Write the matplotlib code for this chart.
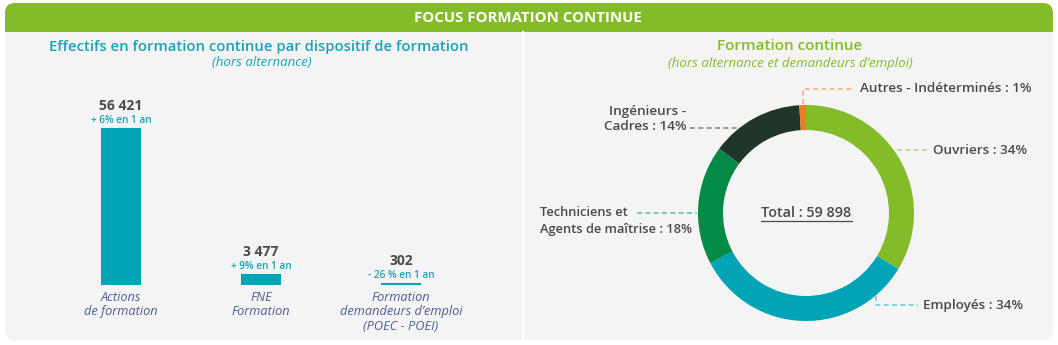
import matplotlib.pyplot as plt
from matplotlib.patches import FancyBboxPatch, Rectangle

# --- data -------------------------------------------------------------
dispositifs = ["Actions\nde formation", "FNE\nFormation",
               "Formation\ndemandeurs d’emploi\n(POEC - POEI)"]
effectifs = [56421, 3477, 302]
evolutions = ["+ 6% en 1 an", "+ 9% en 1 an", "- 26 % en 1 an"]

categories = ["Ouvriers", "Employés", "Techniciens et\nAgents de maîtrise",
              "Ingénieurs -\nCadres", "Autres - Indéterminés"]
parts = [34, 34, 18, 14, 1]
total = 59898

GREEN = "#84bb29"
TEAL = "#00a4b6"
TITLE_TEAL = "#1ba1b9"
DARK = "#4a4a4a"
SLATE = "#4f5d96"
PANEL = "#f4f4f4"
ring_colours = ["#84bb29", "#00a4b6", "#038a47", "#213528", "#f07c22"]
leader_colours = ["#b9d88a", "#73cbd6", "#6cc49a", "#8c8c8c", "#f5b08a"]

plt.rcParams["font.family"] = ["Open Sans", "DejaVu Sans"]

W, H = 1058, 345
fig = plt.figure(figsize=(W / 100, H / 100), dpi=100)

# background axes in pixel coordinates
bg = fig.add_axes([0, 0, 1, 1])
bg.set_xlim(0, W)
bg.set_ylim(H, 0)
bg.axis("off")

bg.add_patch(FancyBboxPatch((5, 3), 1048, 337, boxstyle="round,pad=0,rounding_size=10",
                            fc=PANEL, ec="none"))
bg.add_patch(FancyBboxPatch((5, 3), 1048, 40, boxstyle="round,pad=0,rounding_size=10",
                            fc=GREEN, ec="none"))
bg.add_patch(Rectangle((5, 32), 1048, 20, fc=PANEL, ec="none"))
bg.plot([523, 523], [32, 340], color="white", lw=1.5)

bg.text(528, 18, "FOCUS FORMATION CONTINUE", color="white", fontsize=10.8,
        fontweight="bold", ha="center", va="center")

bg.text(259, 47, "Effectifs en formation continue par dispositif de formation",
        color=TITLE_TEAL, fontsize=10.7, fontweight="semibold", ha="center", va="center")
bg.text(262, 63, "(hors alternance)", color=TITLE_TEAL, fontsize=9.5, style="italic",
        ha="center", va="center")

bg.text(790, 46, "Formation continue", color=GREEN, fontsize=11,
        fontweight="semibold", ha="center", va="center")
bg.text(790, 63, "(hors alternance et demandeurs d’emploi)", color=GREEN, fontsize=9.5,
        style="italic", ha="center", va="center")

# --- bar chart --------------------------------------------------------
x0, step = 121, 140           # pixel centre of first bar, spacing
base, top = 285, 85           # pixel baseline and top of axes
left_px = x0 - 0.7 * step
axb = fig.add_axes([left_px / W, (H - base) / H, 3.4 * step / W, (base - top) / H])
axb.patch.set_alpha(0)
xs = range(len(effectifs))
axb.bar(xs, effectifs, width=0.265, color=TEAL, edgecolor=TEAL, linewidth=1.5)
axb.set_xlim(-0.7, 2.7)
axb.set_ylim(0, effectifs[0] * (base - top) / 156)
for s in axb.spines.values():
    s.set_visible(False)
axb.set_yticks([])
axb.set_xticks(list(xs))
axb.set_xticklabels(dispositifs, fontsize=9.2, style="italic", color=SLATE,
                    linespacing=1.16)
axb.tick_params(axis="x", length=0, pad=4)

for x, v, evo in zip(xs, effectifs, evolutions):
    axb.annotate(f"{v:,}".replace(",", " "), (x, v), xytext=(0, 23),
                 textcoords="offset pixels", ha="center", va="center",
                 fontsize=10, fontweight="bold", color=DARK)
    axb.annotate(evo, (x, v), xytext=(0, 9), textcoords="offset pixels",
                 ha="center", va="center", fontsize=7.2, fontweight="semibold",
                 color=TITLE_TEAL)

# --- donut ------------------------------------------------------------
cx, cy, r = 806, 213, 108
half = 130
axd = fig.add_axes([(cx - half) / W, (H - cy - half) / H, 2 * half / W, 2 * half / H])
axd.pie(parts, colors=ring_colours, startangle=90, counterclock=False, radius=1,
        wedgeprops=dict(width=25 / r, linewidth=0))
axd.set_xlim(-half / r, half / r)
axd.set_ylim(-half / r, half / r)

bg.text(cx, 213, f"Total : {total:,}".replace(",", " "), color=DARK, fontsize=10.4,
        fontweight="semibold", ha="center", va="center")
bg.plot([761, 852], [221, 221], color=DARK, lw=0.9)

labels = [f"{c} : {p}%" for c, p in zip(categories, parts)]
dash = dict(ls=(0, (3, 2)), lw=1.2)
lab = dict(color=DARK, fontweight="semibold", va="center")

# Ouvriers
bg.plot([897, 928], [150, 150], color=leader_colours[0], **dash)
bg.text(933, 150, labels[0], ha="left", fontsize=9.7, **lab)
# Employés
bg.plot([876, 876, 918], [296, 305, 305], color=leader_colours[1], **dash)
bg.text(923, 305, labels[1], ha="left", fontsize=9.7, **lab)
# Techniciens
bg.plot([637, 697], [213, 213], color=leader_colours[2], **dash)
bg.text(540, 221, labels[2], ha="left", fontsize=9.3, linespacing=1.3, **lab)
# Ingénieurs
bg.plot([690, 740], [128, 128], color=leader_colours[3], **dash)
bg.text(686, 119, labels[3], ha="right", fontsize=9.7, linespacing=1.25, **lab)
# Autres
bg.plot([803, 803, 852], [104, 89, 89], color=leader_colours[4], **dash)
bg.text(860, 89, labels[4], ha="left", fontsize=9.7, **lab)

fig.savefig("out.png", dpi=100, facecolor="white")
